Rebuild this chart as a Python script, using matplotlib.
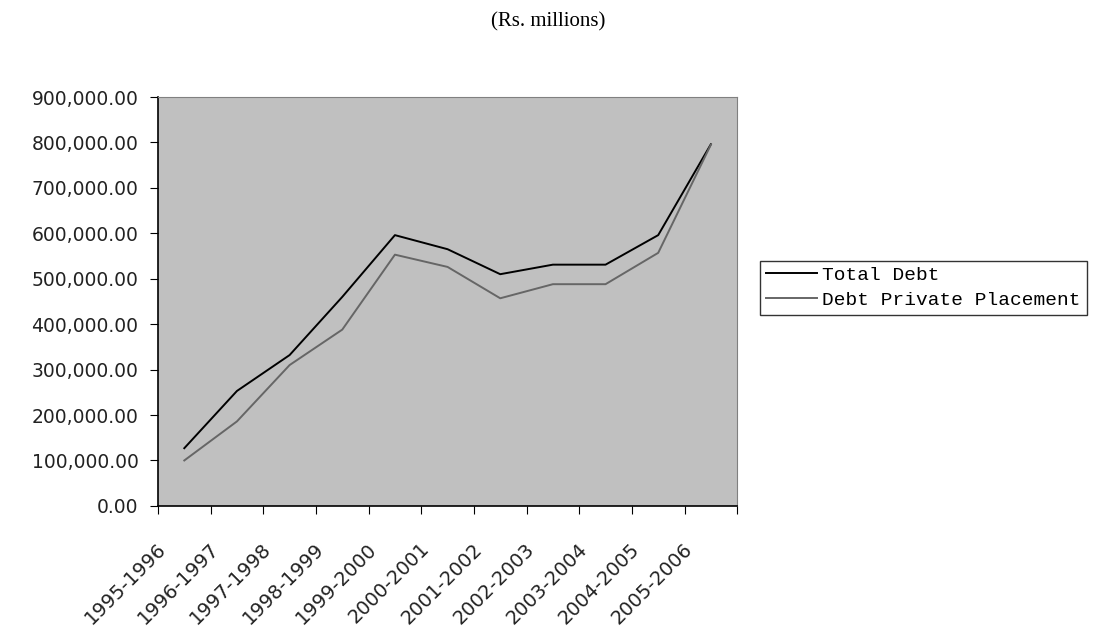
import numpy as np
import matplotlib.pyplot as plt
from matplotlib.ticker import FuncFormatter
from matplotlib.transforms import ScaledTranslation

# Datos (Rs. millones)
years = ["1995-1996", "1996-1997", "1997-1998", "1998-1999", "1999-2000",
         "2000-2001", "2001-2002", "2002-2003", "2003-2004", "2004-2005",
         "2005-2006"]
total_debt = [127000, 253000, 332000, 460000, 596000, 565000,
              510000, 531000, 531000, 596000, 796000]
private_placement = [100000, 186000, 310000, 388000, 553000, 526000,
                     457000, 488000, 488000, 557000, 795000]

fig = plt.figure(figsize=(10.97, 6.30), dpi=100)
ax = fig.add_axes([0.144, 0.197, 0.528, 0.649])
ax.set_facecolor("#C0C0C0")

x = np.arange(len(years))
ax.plot(x, total_debt, color="black", lw=1.4, label="Total Debt")
ax.plot(x, private_placement, color="#666666", lw=1.4,
        label="Debt Private Placement")

ax.set_xlim(-0.5, len(years) - 0.5)
ax.set_ylim(0, 900000)
ax.set_yticks(np.arange(0, 900001, 100000))
ax.yaxis.set_major_formatter(FuncFormatter(lambda v, p: f"{v:,.2f}"))
for t in ax.get_yticklabels():
    t.set_fontsize(13.5)
    t.set_color("#222222")

# ticks del eje x en los bordes de cada categoria, etiquetas al centro
ax.set_xticks(np.arange(-0.5, len(years), 1.0))
ax.set_xticklabels([])
ax.set_xticks(x, minor=True)
ax.set_xticklabels(years, minor=True, rotation=45, ha="right",
                   rotation_mode="anchor", fontsize=14, color="#222222")
ax.tick_params(axis="x", which="minor", length=0, pad=24)
ax.tick_params(axis="x", which="major", length=6, direction="out")
ax.tick_params(axis="y", length=6, direction="out", pad=8)
shift = ScaledTranslation(-0.28, 0, fig.dpi_scale_trans)
for t in ax.get_xticklabels(minor=True):
    t.set_transform(t.get_transform() + shift)

for s in ["top", "right"]:
    ax.spines[s].set_color("#808080")
for s in ["left", "bottom"]:
    ax.spines[s].set_color("black")
    ax.spines[s].set_linewidth(1.2)

fig.text(0.5, 0.965, "(Rs. millions)", ha="center", va="center",
         fontsize=15, family="Liberation Serif")

leg = ax.legend(loc="upper left", bbox_to_anchor=(0.693, 0.586),
                bbox_transform=fig.transFigure, frameon=True, fancybox=False,
                prop={"family": "Liberation Mono", "size": 14},
                handlelength=2.6, borderaxespad=0, borderpad=0.3,
                labelspacing=0.35, handletextpad=0.3)
leg.get_frame().set_edgecolor("black")
leg.get_frame().set_linewidth(1.0)

fig.savefig("out.png", dpi=100)
